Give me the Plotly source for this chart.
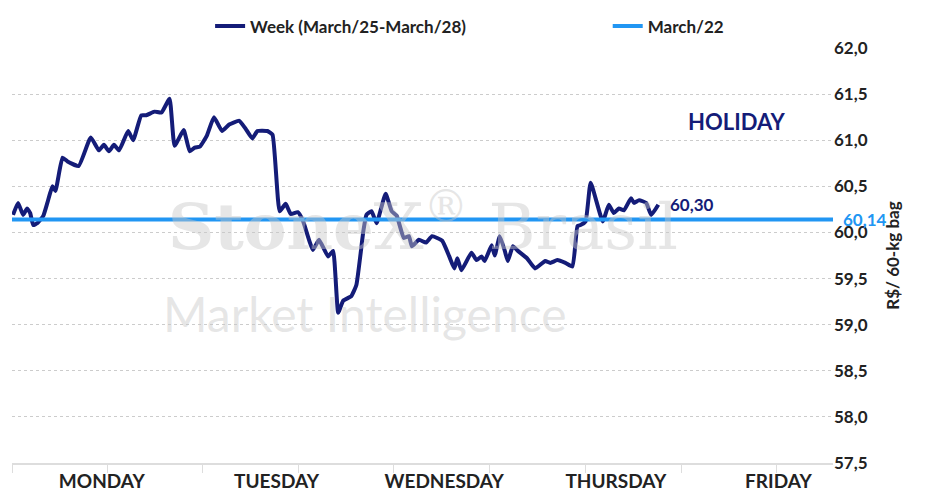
import plotly.graph_objects as go

# time position along the week axis (0 = Monday open, 813 = Friday close)
x_pos = [1, 6, 11, 15, 18, 21, 25, 31, 35, 40, 43, 50, 55, 66, 78, 86, 91, 96, 101, 106,
         115, 120, 128, 133, 141, 148, 156, 161, 170, 176, 181, 186, 193, 200, 208, 215,
         225, 231, 238, 243, 253, 258, 265, 271, 276, 283, 288, 298, 304, 313, 318, 323,
         328, 336, 341, 348, 351, 356, 361, 370, 376, 381, 388, 393, 396, 403, 410, 416,
         426, 433, 438, 441, 445, 455, 460, 465, 468, 475, 478, 483, 488, 491, 496, 501,
         510, 518, 528, 533, 540, 548, 555, 560, 563, 568, 573, 585, 591, 596, 601, 606,
         613, 616, 621, 628, 633, 640]
week = [60.19, 60.32, 60.19, 60.26, 60.21, 60.08, 60.10, 60.18, 60.32, 60.50, 60.45,
        60.81, 60.77, 60.72, 61.03, 60.89, 60.95, 60.88, 60.95, 60.89, 61.10, 61.00,
        61.27, 61.27, 61.31, 61.30, 61.45, 60.94, 61.11, 60.88, 60.92, 60.93, 61.05,
        61.25, 61.10, 61.17, 61.21, 61.13, 61.02, 61.10, 61.10, 61.06, 60.23, 60.31,
        60.20, 60.22, 60.13, 59.81, 59.92, 59.74, 59.80, 59.13, 59.26, 59.31, 59.43,
        60.02, 60.19, 60.23, 60.10, 60.42, 60.23, 60.18, 59.94, 59.96, 59.85, 59.92,
        59.89, 59.96, 59.91, 59.74, 59.61, 59.72, 59.59, 59.78, 59.70, 59.74, 59.69,
        59.86, 59.75, 59.96, 59.80, 59.69, 59.85, 59.80, 59.72, 59.61, 59.69, 59.67,
        59.70, 59.67, 59.63, 60.07, 60.08, 60.12, 60.54, 60.12, 60.30, 60.21, 60.26,
        60.24, 60.37, 60.32, 60.35, 60.32, 60.19, 60.30]
march22 = 60.14
axis_span = [0, 813]

days = ['MONDAY', 'TUESDAY', 'WEDNESDAY', 'THURSDAY', 'FRIDAY']
day_pos = [89, 262, 428, 598, 759]
tick_marks = [0, 95, 189, 284, 378, 473, 568, 663, 757]
y_ticks = [57.5, 58.0, 58.5, 59.0, 59.5, 60.0, 60.5, 61.0, 61.5, 62.0]

navy = '#141c78'
blue = '#2196f3'
font = 'Lato, "Noto Sans", sans-serif'

fig = go.Figure()
fig.add_trace(go.Scatter(x=x_pos, y=week, mode='lines', name='<b>Week (March/25-March/28)</b>',
                         line=dict(color=navy, width=4, shape='spline', smoothing=0.4),
                         legend='legend'))
fig.add_trace(go.Scatter(x=axis_span, y=[march22, march22], mode='lines', name='<b>March/22</b>',
                         line=dict(color=blue, width=4), legend='legend2'))

# watermark
fig.add_annotation(x=0.5, y=0.58, xref='paper', yref='paper', showarrow=False,
                   text='<b>Stone</b><b>X</b><sup>®</sup> Brasil',
                   font=dict(family='"DejaVu Serif", serif', size=64, color='rgba(200,200,200,0.45)'))
fig.add_annotation(x=0.43, y=0.36, xref='paper', yref='paper', showarrow=False,
                   text='Market Intelligence',
                   font=dict(family=font, size=48, color='rgba(200,200,200,0.45)'))

fig.add_annotation(x=x_pos[-1] + 10, y=week[-1], xanchor='left', showarrow=False,
                   text='<b>60,30</b>', font=dict(family=font, size=17, color=navy))
fig.add_annotation(x=1.0, y=march22, xref='paper', xanchor='left', xshift=8, showarrow=False,
                   text='<b>60,14</b>', font=dict(family=font, size=17, color=blue))
fig.add_annotation(x=0.945, y=61.2, xref='paper', showarrow=False,
                   text='<b>HOLIDAY</b>', font=dict(family=font, size=22, color=navy))

legend_style = dict(orientation='h', yanchor='middle', yref='container', xref='container',
                    y=0.963, font=dict(size=17, color='#222'), itemwidth=30,
                    bgcolor='rgba(0,0,0,0)')
fig.update_layout(
    width=940, height=496,
    margin=dict(l=4, r=115, t=40, b=41, autoexpand=False),
    plot_bgcolor='white', paper_bgcolor='white',
    font=dict(family=font, size=17, color='#222'),
    legend=dict(x=0.215, xanchor='left', **legend_style),
    legend2=dict(x=0.638, xanchor='left', **legend_style),
    showlegend=True,
)
fig.update_xaxes(range=axis_span, tickvals=day_pos, ticktext=['<b>%s</b>' % d for d in days], ticks='',
                 showgrid=False, zeroline=False, showline=True, linecolor='#dddddd', linewidth=2,
                 tickfont=dict(size=19, color='#222'),
                 minor=dict(tickvals=tick_marks, ticks='outside', ticklen=8, tickcolor='#dddddd'))
fig.update_yaxes(side='right', range=[57.5, 62.0], tickvals=y_ticks,
                 ticktext=['<b>%s</b>' % f'{v:.1f}'.replace('.', ',') for v in y_ticks],
                 showgrid=True, gridcolor='#cccccc', griddash='dot', zeroline=False,
                 title=dict(text='<b>R$/ 60-kg bag</b>', font=dict(size=17), standoff=20),
                 tickfont=dict(size=17))

fig.write_html('out.html')
